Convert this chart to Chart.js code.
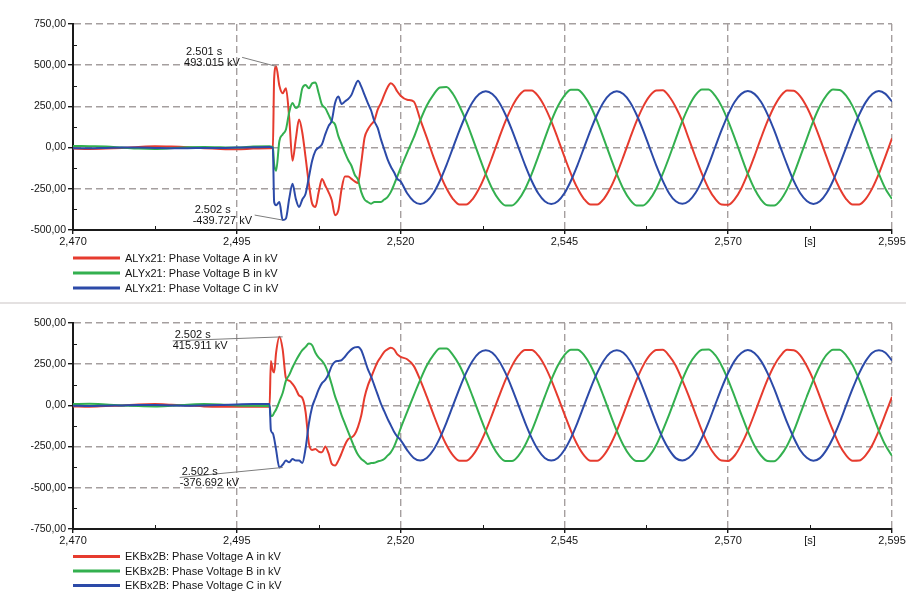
<!DOCTYPE html>
<html>
<head>
<meta charset="utf-8">
<title>Phase voltages ALYx21 / EKBx2B</title>
<script src="https://cdn.jsdelivr.net/npm/chart.js@4.4.1/dist/chart.umd.min.js"></script>
<style>
  html, body { margin: 0; padding: 0; background: #fff; }
  body { width: 906px; height: 592px; position: relative; overflow: hidden; }
  .panel { position: absolute; left: 0; width: 906px; }
  #panel-top { top: 0; height: 300px; }
  #panel-bottom { top: 305px; height: 287px; }
  .divider { position: absolute; left: 0; top: 302px; width: 906px; height: 2px; background: #e4e1e1; }
</style>
</head>
<body>
<div class="panel" id="panel-top"><canvas id="chart-top" width="906" height="300"></canvas></div>
<div class="divider"></div>
<div class="panel" id="panel-bottom"><canvas id="chart-bottom" width="906" height="287"></canvas></div>
<script>
// sample times [s]
const timeS = [
  2.4700, 2.4725, 2.4750, 2.4775, 2.4800, 2.4825, 2.4850, 2.4875, 2.4900, 2.4925, 2.4950, 2.4975,
  2.5000, 2.5002, 2.5005, 2.5007,
  2.5010, 2.5015, 2.5020, 2.5025, 2.5030, 2.5035, 2.5040, 2.5045, 2.5050, 2.5055, 2.5060, 2.5065, 2.5070,
  2.5075, 2.5080, 2.5085, 2.5090, 2.5095, 2.5100, 2.5105, 2.5110, 2.5115, 2.5120, 2.5125, 2.5130, 2.5135,
  2.5140, 2.5145, 2.5150, 2.5155, 2.5160, 2.5165, 2.5170, 2.5175, 2.5180, 2.5185, 2.5190, 2.5195, 2.5200,
  2.521, 2.522, 2.523, 2.524, 2.525, 2.526, 2.527, 2.528, 2.529, 2.530, 2.531, 2.532, 2.533, 2.534, 2.535,
  2.536, 2.537, 2.538, 2.539,
  2.540, 2.541, 2.542, 2.543, 2.544, 2.545, 2.546, 2.547, 2.548, 2.549, 2.550, 2.551, 2.552, 2.553, 2.554,
  2.555, 2.556, 2.557, 2.558, 2.559,
  2.560, 2.561, 2.562, 2.563, 2.564, 2.565, 2.566, 2.567, 2.568, 2.569, 2.570, 2.571, 2.572, 2.573, 2.574,
  2.575, 2.576, 2.577, 2.578, 2.579,
  2.580, 2.581, 2.582, 2.583, 2.584, 2.585, 2.586, 2.587, 2.588, 2.589, 2.590, 2.591, 2.592, 2.593, 2.594,
  2.595
];

// ALYx21 [kV]
const topPhaseA = [
  -6, -8, -6, -2, 4, 8, 6, 2, -4, -8, -10, -6,
  -4, -4, -2, 420,
  493, 375, 330, 360, 180, -80, 50, 170, 90, -60, -220, -340, -360, -270, -190, -230, -270, -320, -410, -380,
  -250, -175, -175, -190, -205, -215, -90, 60, 110, 140, 165, 230, 270, 320, 365, 390, 375, 340, 315,
  290, 280, 170, 60, -55, -159, -247, -312, -346, -346, -312, -247, -159, -55, 55, 159, 247, 312, 346,
  346, 312, 247, 159, 55, -55, -159, -247, -312, -346, -346, -312, -247, -159, -55, 55, 159, 247, 312, 346,
  348, 310, 245, 160, 52, -57, -160, -248, -310, -345, -347, -313, -248, -157, -53, 57, 160, 248, 313, 347,
  345, 311, 246, 158, 55, -55, -160, -247, -312, -346, -345, -311, -246, -158, -53, 56
];
const topPhaseB = [
  10, 8, 6, 0, -6, -8, -4, 2, 4, 2, 0, 6,
  8, 6, 4, -100,
  -140, 40, 80, 110, 215, 270, 240, 260, 360, 380, 360, 390, 395, 330, 260, 240, 200, 160, 140, 70,
  20, -30, -75, -110, -165, -195, -270, -315, -330, -340, -330, -330, -330, -315, -300, -270, -225, -175, -125,
  -30, 60, 165, 255, 320, 365, 368, 325, 251, 161, 55, -55, -161, -251, -316, -351, -351, -316, -251,
  -161, -55, 55, 161, 251, 316, 351, 351, 316, 251, 161, 55, -55, -161, -251, -316, -351, -351, -316, -251,
  -160, -57, 53, 160, 250, 318, 353, 352, 315, 250, 160, 57, -53, -160, -250, -315, -350, -352, -318, -252,
  -162, -55, 55, 162, 252, 317, 352, 350, 315, 250, 160, 55, -55, -160, -250, -312
];
const topPhaseC = [
  -4, -4, -2, 0, 0, -2, -4, -4, -2, -2, 0, 2,
  4, 2, 0, -330,
  -350, -330, -440, -430, -310, -220, -310, -360, -315, -280, -180, -80, -20, 0, 20, 80, 130, 165, 270, 310,
  265, 280, 295, 320, 370, 405, 370, 320, 270, 225, 160, 120, 50, -10, -70, -115, -150, -190, -205,
  -277, -325, -342, -325, -277, -201, -106, 0, 106, 201, 277, 325, 342, 325, 277, 201, 106, 0, -106,
  -201, -277, -325, -342, -325, -277, -201, -106, 0, 106, 201, 277, 325, 342, 325, 277, 201, 106, 0, -106,
  -200, -278, -326, -341, -324, -276, -200, -105, 2, 107, 202, 278, 326, 343, 326, 278, 202, 107, 0, -105,
  -202, -277, -324, -342, -326, -277, -201, -104, 0, 105, 200, 276, 325, 344, 326, 280
];

// EKBx2B [kV]
const bottomPhaseA = [
  -6, -8, -4, 0, 6, 8, 4, 0, -6, -8, -8, -8,
  -8, 270, 210, 200,
  320, 416, 340, 165, 150, 130, 100, 60, 45, -40, -230, -270, -265, -280, -285, -250, -290, -355, -365, -335,
  -290, -240, -205, -195, -175, -130, -60, 50, 120, 170, 220, 265, 295, 325, 340, 350, 340, 310, 295,
  280, 240, 154, 53, -53, -154, -240, -303, -336, -336, -303, -240, -154, -53, 53, 154, 240, 303, 336,
  336, 303, 240, 154, 53, -53, -154, -240, -303, -336, -336, -303, -240, -154, -53, 53, 154, 240, 303, 336,
  338, 301, 241, 152, 55, -51, -155, -241, -302, -335, -337, -304, -238, -153, -52, 55, 156, 241, 302, 337,
  335, 304, 239, 155, 52, -54, -153, -242, -303, -336, -335, -302, -240, -153, -52, 52
];
const bottomPhaseB = [
  8, 10, 6, 0, -4, -6, -2, 4, 8, 6, 0, -2,
  -4, -65, -60, -45,
  -25, 25, 75, 150, 185, 230, 270, 305, 335, 355, 375, 365, 320, 290, 270, 240, 190, 125, 55, 0,
  -60, -110, -160, -210, -260, -300, -325, -340, -355, -350, -348, -340, -335, -325, -305, -285, -250, -200, -140,
  -40, 60, 155, 242, 305, 345, 345, 305, 242, 155, 53, -53, -155, -242, -305, -338, -338, -305, -242,
  -155, -53, 53, 155, 242, 305, 338, 338, 305, 242, 155, 53, -53, -155, -242, -305, -338, -338, -305, -242,
  -153, -55, 52, 156, 244, 303, 337, 339, 306, 241, 154, 52, -54, -156, -243, -304, -337, -339, -304, -243,
  -156, -52, 54, 154, 241, 306, 338, 337, 304, 243, 156, 54, -52, -154, -242, -306
];
const bottomPhaseC = [
  -2, -4, -2, 0, 2, 2, 0, -2, 0, 2, 6, 8,
  8, -150, -170, -200,
  -270, -377, -360, -335, -345, -325, -335, -335, -349, -260, -110, -10, 45, 97, 135, 155, 190, 240, 265, 270,
  275, 295, 320, 340, 352, 355, 335, 280, 220, 175, 120, 65, 10, -35, -80, -120, -160, -190, -210,
  -271, -319, -335, -319, -271, -197, -104, 0, 104, 197, 271, 319, 335, 319, 271, 197, 104, 0, -104,
  -197, -271, -319, -335, -319, -271, -197, -104, 0, 104, 197, 271, 319, 335, 319, 271, 197, 104, 0, -104,
  -198, -270, -320, -334, -318, -272, -196, -103, 2, 105, 198, 272, 318, 336, 318, 270, 196, 103, -1, -105,
  -196, -272, -318, -336, -320, -270, -198, -105, 0, 103, 196, 270, 320, 334, 320, 272
];

const topSeriesNames = [
  'ALYx21: Phase Voltage A in kV',
  'ALYx21: Phase Voltage B in kV',
  'ALYx21: Phase Voltage C in kV'
];
const bottomSeriesNames = [
  'EKBx2B: Phase Voltage A in kV',
  'EKBx2B: Phase Voltage B in kV',
  'EKBx2B: Phase Voltage C in kV'
];

const xTickValues = [2.470, 2.4825, 2.495, 2.5075, 2.520, 2.5325, 2.545, 2.5575, 2.570, 2.5825, 2.595];
const xTickLabels = ['2,470', '', '2,495', '', '2,520', '', '2,545', '', '2,570', '[s]', '2,595'];

const topYTicks = [-500, -250, 0, 250, 500, 750];
const topYLabels = ['-500,00', '-250,00', '0,00', '250,00', '500,00', '750,00'];
const topYMinor = [-375, -125, 125, 375, 625];
const bottomYTicks = [-750, -500, -250, 0, 250, 500];
const bottomYLabels = ['-750,00', '-500,00', '-250,00', '0,00', '250,00', '500,00'];
const bottomYMinor = [-625, -375, -125, 125, 375];

// cursor readouts [s, kV]
const topMarkers = [{ t: 2.501, v: 493.015 }, { t: 2.502, v: -439.727 }];
const bottomMarkers = [{ t: 2.502, v: 415.911 }, { t: 2.502, v: -376.692 }];

const PHASE_COLORS = ['#e63b2e', '#33b04f', '#2c4aa8'];
const FONT = "'Liberation Sans', Arial, sans-serif";
const GRID_COLOR = '#a59f9f';
const AXIS_COLOR = '#1a1a1a';
const TEXT_COLOR = '#141414';

// minor ticks, legend and cursor readouts
function scopeDecor(cfg) {
  return {
    id: 'scopeDecor',
    afterDatasetsDraw(chart) {
      const ctx = chart.ctx;
      const xs = chart.scales.x;
      const ys = chart.scales.y;
      ctx.save();
      ctx.font = '11px ' + FONT;
      ctx.textBaseline = 'middle';
      ctx.textAlign = 'left';
      cfg.markers.forEach((m, i) => {
        const px = xs.getPixelForValue(m.t);
        const py = ys.getPixelForValue(m.v);
        const box = cfg.labelBoxes[i];
        const tx = px + box.dx;
        const ty = py + box.dy;
        ctx.strokeStyle = '#7d7d7d';
        ctx.lineWidth = 1;
        ctx.beginPath();
        ctx.moveTo(tx + box.lead, ty);
        ctx.lineTo(px, py);
        ctx.stroke();
        ctx.fillStyle = TEXT_COLOR;
        ctx.fillText(m.t.toFixed(3) + ' s', tx + 2, ty - 5.5);
        ctx.fillText(m.v.toFixed(3) + ' kV', tx, ty + 5.5);
      });
      ctx.restore();
    },
    afterDraw(chart) {
      const ctx = chart.ctx;
      const area = chart.chartArea;
      const xs = chart.scales.x;
      const ys = chart.scales.y;
      ctx.save();
      ctx.strokeStyle = AXIS_COLOR;
      ctx.lineWidth = 1;
      ctx.beginPath();
      xTickValues.forEach((v, i) => {
        if (xTickLabels[i] !== '' && xTickLabels[i] !== '[s]') return;
        const px = Math.round(xs.getPixelForValue(v)) + 0.5;
        ctx.moveTo(px, area.bottom);
        ctx.lineTo(px, area.bottom - 4);
      });
      cfg.yMinor.forEach(v => {
        const py = Math.round(ys.getPixelForValue(v)) + 0.5;
        ctx.moveTo(area.left, py);
        ctx.lineTo(area.left + 4, py);
      });
      ctx.stroke();

      // legend, one entry per row
      ctx.font = '11px ' + FONT;
      ctx.textBaseline = 'middle';
      ctx.textAlign = 'left';
      chart.data.datasets.forEach((ds, i) => {
        const y = area.bottom + cfg.legendOffset + i * cfg.legendGap;
        ctx.strokeStyle = ds.borderColor;
        ctx.lineWidth = 3;
        ctx.beginPath();
        ctx.moveTo(area.left, y);
        ctx.lineTo(area.left + 47, y);
        ctx.stroke();
        ctx.fillStyle = TEXT_COLOR;
        ctx.fillText(ds.label, area.left + 52, y + 0.5);
      });
      ctx.restore();
    }
  };
}

function buildChart(canvasId, series, names, yTicks, yLabels, cfg) {
  const datasets = series.map((values, i) => ({
    label: names[i],
    data: values,
    borderColor: PHASE_COLORS[i],
    borderWidth: 2,
    pointRadius: 0,
    fill: false,
    cubicInterpolationMode: 'monotone',
    order: 2 - i
  }));

  return new Chart(document.getElementById(canvasId), {
    type: 'line',
    data: { labels: timeS, datasets: datasets },
    options: {
      responsive: false,
      devicePixelRatio: 1,
      animation: false,
      events: [],
      layout: { padding: { top: cfg.padTop, right: 14, left: 0, bottom: 0 } },
      plugins: {
        legend: { display: false },
        tooltip: { enabled: false }
      },
      scales: {
        x: {
          type: 'linear',
          min: 2.470,
          max: 2.595,
          afterBuildTicks: scale => {
            scale.ticks = xTickValues.map(v => ({ value: v }));
          },
          afterFit: scale => {
            scale.height = cfg.xAxisHeight;
            scale.paddingLeft = 0;
            scale.paddingRight = 0;
          },
          ticks: {
            autoSkip: false,
            maxRotation: 0,
            padding: 1,
            color: TEXT_COLOR,
            font: { family: FONT, size: 11 },
            callback: (value, index) => xTickLabels[index]
          },
          grid: {
            color: c => (c.index > 0 && xTickLabels[c.index] && xTickLabels[c.index] !== '[s]') ? GRID_COLOR : 'rgba(0,0,0,0)',
            lineWidth: 1.4,
            tickLength: 4,
            tickColor: c => (xTickLabels[c.index] && xTickLabels[c.index] !== '[s]') ? AXIS_COLOR : 'rgba(0,0,0,0)',
            tickBorderDash: []
          },
          border: { display: true, color: AXIS_COLOR, width: 2, dash: [7, 4] }
        },
        y: {
          min: yTicks[0],
          max: yTicks[yTicks.length - 1],
          afterBuildTicks: scale => {
            scale.ticks = yTicks.map(v => ({ value: v }));
          },
          afterFit: scale => {
            scale.width = 73;
          },
          ticks: {
            padding: 2,
            color: TEXT_COLOR,
            font: { family: FONT, size: 10.5 },
            callback: (value, index) => yLabels[index]
          },
          grid: {
            color: c => c.index > 0 ? GRID_COLOR : 'rgba(0,0,0,0)',
            lineWidth: 1.4,
            tickLength: 5,
            tickColor: AXIS_COLOR,
            tickBorderDash: []
          },
          border: { display: true, color: AXIS_COLOR, width: 2, dash: [7, 4] }
        }
      }
    },
    plugins: [scopeDecor(cfg)]
  });
}

buildChart('chart-top', [topPhaseA, topPhaseB, topPhaseC], topSeriesNames, topYTicks, topYLabels, {
  padTop: 24,
  xAxisHeight: 70,
  yMinor: topYMinor,
  markers: topMarkers,
  labelBoxes: [{ dx: -92, dy: -9, lead: 58 }, { dx: -90, dy: -5, lead: 62 }],
  legendOffset: 28,
  legendGap: 15
});

buildChart('chart-bottom', [bottomPhaseA, bottomPhaseB, bottomPhaseC], bottomSeriesNames, bottomYTicks, bottomYLabels, {
  padTop: 18,
  xAxisHeight: 63,
  yMinor: bottomYMinor,
  markers: bottomMarkers,
  labelBoxes: [{ dx: -110, dy: 4, lead: 0 }, { dx: -103, dy: 10, lead: 0 }],
  legendOffset: 27.5,
  legendGap: 14.5
});
</script>
</body>
</html>
